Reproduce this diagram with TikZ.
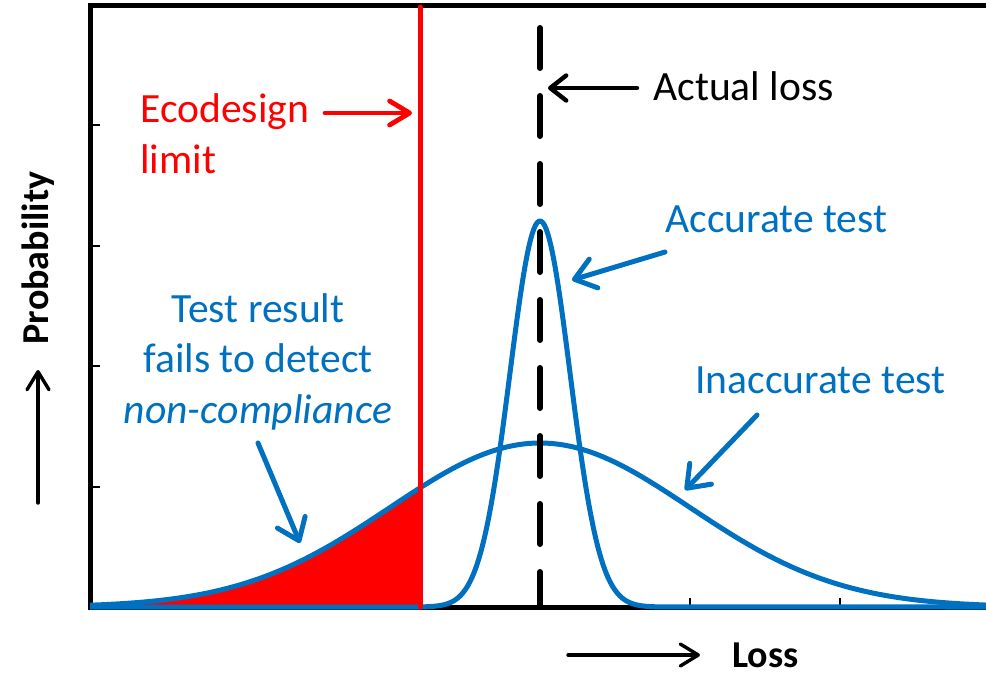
\documentclass[tikz,border=0pt]{standalone}
\usepackage{fontspec}
\setmainfont{Carlito}
\usetikzlibrary{arrows.meta}
\definecolor{xblue}{RGB}{0,112,192}
\begin{document}
\begin{tikzpicture}[x=0.5pt,y=-0.5pt,
  lbl/.style={font=\fontsize{20.8pt}{25.3pt}\selectfont, inner sep=0pt},
  axlbl/.style={font=\fontsize{19pt}{23pt}\selectfont\bfseries, inner sep=0pt},
  curve/.style={xblue, line width=2.5pt, line join=round},
  barrow/.style={xblue, line width=2.5pt, line cap=round, -{Straight Barb[length=10pt,width=15pt,round]}},
  karrow/.style={black, line width=2.2pt, line cap=round, -{Straight Barb[length=8pt,width=12.5pt,round]}},
  rarrow/.style={red, line width=2.4pt, line cap=round, -{Straight Barb[length=10pt,width=12pt,round]}},
  axarrow/.style={black, line width=1.7pt, line cap=round, -{Straight Barb[length=9pt,width=11pt,round]}},
  tick/.style={black, line width=1pt}
]
\useasboundingbox (0,0) rectangle (986,677);
% axes
\draw[line width=2.5pt] (986,5) -- (90,5) -- (90,607) -- (986,607);
\foreach \yy in {125,246,366,487} \draw[tick] (90,\yy) -- (100,\yy);
\foreach \xx in {690,840} \draw[tick] (\xx,607) -- (\xx,598);
% red region
\fill[red] (90,607) -- plot[domain=90:420, samples=80] (\x, {607-164*exp(-0.5*((\x-540)/150)^2)}) -- (420,607) -- cycle;
% curves
\draw[curve] plot[domain=90:986, samples=160] (\x, {607-164*exp(-0.5*((\x-540)/150)^2)});
\draw[curve] (90,607) -- (420,607) -- plot[domain=420:660, samples=140] (\x,{607-386*exp(-0.5*((\x-540)/30)^2)}) -- (986,607);
% limit line
\draw[red, line width=2.5pt, line cap=round] (420,7) -- (420,607);
% actual loss
\draw[line width=3pt, line cap=round, dash pattern=on 20pt off 14pt] (540,28) -- (540,607);
% labels
\node[lbl, red, anchor=base west] (eco) at (140,122) {Ecodesign};
\node[lbl, red, anchor=base west] (lim) at (140,173) {limit};
\node[lbl, anchor=base west] (act) at (653,100) {Actual loss};
\node[lbl, xblue, anchor=base west] (acc) at (665,232) {Accurate test};
\node[lbl, xblue, anchor=base west] (inacc) at (695,393) {Inaccurate test};
\node[lbl, xblue, anchor=base] (t1) at (258,322) {Test result};
\node[lbl, xblue, anchor=base] (t2) at (258,372) {fails to detect};
\node[lbl, xblue, anchor=base] (t3) at (258,423) {\itshape non-compliance};
\node[axlbl, anchor=base west] (loss) at (732,667) {Loss};
\node[axlbl, rotate=90, anchor=base] (prob) at (48,258) {Probability};
% arrow endpoints
\coordinate (ra0) at (325,113); \coordinate (ra1) at (412,113);
\coordinate (ka0) at (637,88); \coordinate (ka1) at (548,88);
\coordinate (aa0) at (665,252); \coordinate (aa1) at (572,280);
\coordinate (ia0) at (757,415); \coordinate (ia1) at (685,490);
\coordinate (ta0) at (258,443); \coordinate (ta1) at (300,543);
\coordinate (la0) at (568,655); \coordinate (la1) at (700,655);
\coordinate (pa0) at (38,503); \coordinate (pa1) at (38,370);
\draw[rarrow] (ra0) -- (ra1);
\draw[karrow] (ka0) -- (ka1);
\draw[barrow] (aa0) -- (aa1);
\draw[barrow] (ia0) -- (ia1);
\draw[barrow] (ta0) -- (ta1);
\draw[axarrow] (la0) -- (la1);
\draw[axarrow] (pa0) -- (pa1);
\end{tikzpicture}
\end{document}
